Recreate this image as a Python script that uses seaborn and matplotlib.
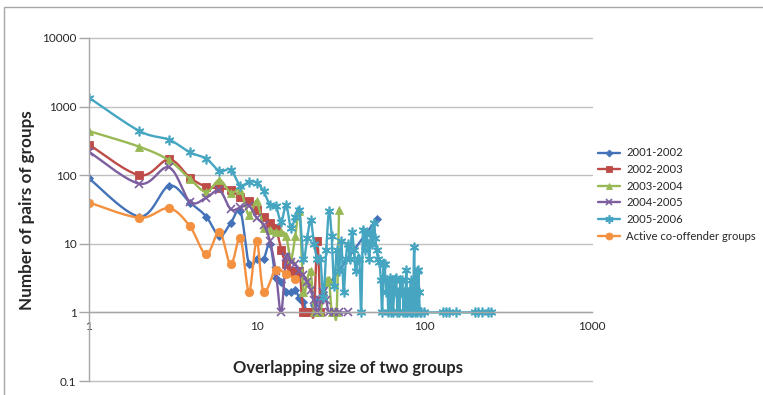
import numpy as np
import pandas as pd
import matplotlib
matplotlib.use("Agg")
import matplotlib.pyplot as plt
from matplotlib.lines import Line2D
from matplotlib.patches import Rectangle
import seaborn as sns

sns.set_theme(style="white")
plt.rcParams["font.family"] = ["Lato", "DejaVu Sans"]

# ---- data -------------------------------------------------------------
x_0102 = [1, 2, 3, 4, 5, 6, 7, 8, 9, 10, 11, 12, 13, 14, 15, 16, 17, 18, 19, 20, 21, 22, 25, 52]
y_0102 = [90, 25, 70, 40, 25, 13, 20, 30, 5, 6, 6, 10, 3.2, 2.8, 2, 2, 2.1, 1.6, 1.4, 1, 1, 1.3, 2, 23]

x_0203 = [1, 2, 3, 4, 5, 6, 7, 8, 9, 10, 11, 12, 13, 14, 15, 16, 17, 18, 19, 20, 21, 22, 23, 24]
y_0203 = [280, 100, 170, 92, 68, 65, 61, 48, 42, 31, 25, 20, 17, 8.2, 5, 4, 4, 4, 1, 1, 1, 1, 11, 1]

x_0304 = [1, 2, 3, 4, 5, 6, 7, 8, 9, 10, 11, 12, 13, 14, 15, 16, 17, 18, 19, 20, 21, 22, 23,
          24, 25, 26, 27, 28, 29, 30, 31]
y_0304 = [440, 260, 165, 88, 57, 85, 55, 60, 26, 42, 17, 16, 15, 15, 13, 6, 13, 30, 2, 3, 4, 1, 1,
          1, 2, 2.8, 3, 1, 1, 1, 31]

x_0405 = [1, 2, 3, 4, 5, 6, 7, 8, 9, 10, 11, 12, 13, 14, 15, 16, 17, 18, 19, 20, 21, 22, 23,
          24, 25, 26, 27, 29, 31, 35]
y_0405 = [220, 75, 130, 41, 47, 60, 32, 34, 36, 24, 19, 11, 4, 1, 6.5, 5.5, 5, 4, 3.5, 2.8, 2.1, 1.5, 1,
          1.5, 2, 1.5, 1, 1, 1, 1]

x_0506 = list(range(1, 96)) + [100, 130, 135, 140, 155, 200, 210, 220, 240, 250]
y_0506 = [1350, 440, 330, 215, 175, 115, 120, 70, 80, 78,
          58, 37, 36, 21, 37, 17, 25, 31, 6, 12,
          22, 10, 6, 6, 1.7, 8, 30, 13, 2.4, 8,
          4, 11, 2, 6, 10, 6, 15, 8, 4, 6,
          6, 1, 16, 8, 14, 10, 6, 15, 10, 20,
          12, 8, 6, 5.5, 3, 1, 5, 5, 2, 3,
          1, 3.2, 1, 3, 1, 2, 3, 3.2, 1, 2,
          1, 3, 2, 3, 1, 2, 1, 4.2, 1, 2,
          2, 1, 3, 1, 1, 2, 9, 1, 2, 4,
          1, 4.2, 2, 1, 1,
          1, 1, 1, 1, 1, 1, 1, 1, 1, 1]

x_active = [1, 2, 3, 4, 5, 6, 7, 8, 9, 10, 11, 13, 15, 17]
y_active = [40, 24, 33, 18, 7, 15, 5, 12, 2, 11, 2, 4.2, 3.6, 3.1]

series_names = ["2001-2002", "2002-2003", "2003-2004", "2004-2005", "2005-2006",
                "Active co-offender groups"]
series_x = [x_0102, x_0203, x_0304, x_0405, x_0506, x_active]
series_y = [y_0102, y_0203, y_0304, y_0405, y_0506, y_active]
colors = ["#4472B9", "#BE4B48", "#98B954", "#7D5FA0", "#46A6C2", "#F39140"]
markers = ["D", "s", "^", "x", (6, 2, 0), "o"]
marker_sizes = [4.5, 6, 6, 6, 7, 6]

x_ticks = [1, 10, 100, 1000]
y_ticks = [0.1, 1, 10, 100, 1000, 10000]


def smooth_curve(xs, ys, n=16):
    """Bezier smoothing through every point, computed in log-log space."""
    p = np.column_stack([np.log10(xs), np.log10(ys)])
    out = [p[0]]
    t = np.linspace(0, 1, n + 1)[1:, None]
    for i in range(len(p) - 1):
        p0 = p[i - 1] if i > 0 else p[i]
        p1, p2 = p[i], p[i + 1]
        p3 = p[i + 2] if i + 2 < len(p) else p[i + 1]
        c1 = p1 + (p2 - p0) / 6.0
        c2 = p2 - (p3 - p1) / 6.0
        seg = ((1 - t) ** 3) * p1 + 3 * ((1 - t) ** 2) * t * c1 + 3 * (1 - t) * t ** 2 * c2 + t ** 3 * p2
        out.extend(seg)
    out = np.array(out)
    return 10 ** out[:, 0], 10 ** out[:, 1]


# ---- figure -----------------------------------------------------------
fig = plt.figure(figsize=(7.63, 3.95), dpi=100)
ax = fig.add_axes([0.1166, 0.0354, 0.6593, 0.8684])
ax.set_xscale("log")
ax.set_yscale("log")

for name, xs, ys, c, m, ms in zip(series_names, series_x, series_y, colors, markers, marker_sizes):
    sx, sy = smooth_curve(xs, ys)
    curve = pd.DataFrame({"x": sx, "y": sy})
    sns.lineplot(data=curve, x="x", y="y", sort=False, estimator=None, color=c,
                 linewidth=1.7, ax=ax, legend=False)
    ax.plot(xs, ys, linestyle="none", marker=m, markersize=ms, color=c,
            markeredgecolor=c, markeredgewidth=1.2 if m in ("x", (6, 2, 0)) else 0.6)

ax.set_xlim(1, 1000)
ax.set_ylim(0.1, 10000)
ax.set_xticks(x_ticks)
ax.set_xticklabels([str(v) for v in x_ticks])
ax.set_yticks(y_ticks)
ax.set_yticklabels(["0.1", "1", "10", "100", "1000", "10000"])
ax.minorticks_off()

ax.grid(False)
for yv in y_ticks:
    ax.axhline(yv, color="#BFBFBF", linewidth=1.0, zorder=0, clip_on=False)

for s in ("top", "right"):
    ax.spines[s].set_visible(False)
ax.spines["left"].set_color("#A6A6A6")
ax.spines["left"].set_linewidth(1.0)
ax.spines["bottom"].set_position(("data", 1))
ax.spines["bottom"].set_color("#A6A6A6")
ax.spines["bottom"].set_linewidth(1.0)

ax.tick_params(axis="y", which="major", length=7, width=1, color="#A6A6A6",
               labelsize=8.5, labelcolor="#262626", pad=2, left=True)
ax.tick_params(axis="x", which="major", length=0, labelsize=8.5, labelcolor="#262626", pad=6,
               bottom=True)
ax.set_xlabel("")
ax.set_ylabel("")

fig.text(348 / 763, 1 - 368 / 395, "Overlapping size of two groups", ha="center", va="center",
         fontsize=12, fontweight="bold", color="#262626")
fig.text(27 / 763, 1 - 210 / 395, "Number of pairs of groups", ha="center", va="center",
         rotation=90, fontsize=12.3, fontweight="bold", color="#262626")

handles = []
for name, c, m, ms in zip(series_names, colors, markers, marker_sizes):
    handles.append(Line2D([0], [0], color=c, linewidth=1.7, marker=m, markersize=ms - 1,
                          markeredgecolor=c,
                          markeredgewidth=1.2 if m in ("x", (6, 2, 0)) else 0.6))
fig.legend(handles, series_names, loc="upper left", bbox_to_anchor=(593 / 763, 1 - 143 / 395),
           frameon=False, fontsize=8.1, handlelength=2.0, handletextpad=0.55,
           labelspacing=0.5, borderaxespad=0, labelcolor="#262626")

fig.add_artist(Rectangle((4 / 763, -0.1), 1.2, 1.1 + (395 - 7) / 395 - 1.0,
                         transform=fig.transFigure, fill=False,
                         edgecolor="#A6A6A6", linewidth=1.0))

fig.savefig("out.png", dpi=100)
